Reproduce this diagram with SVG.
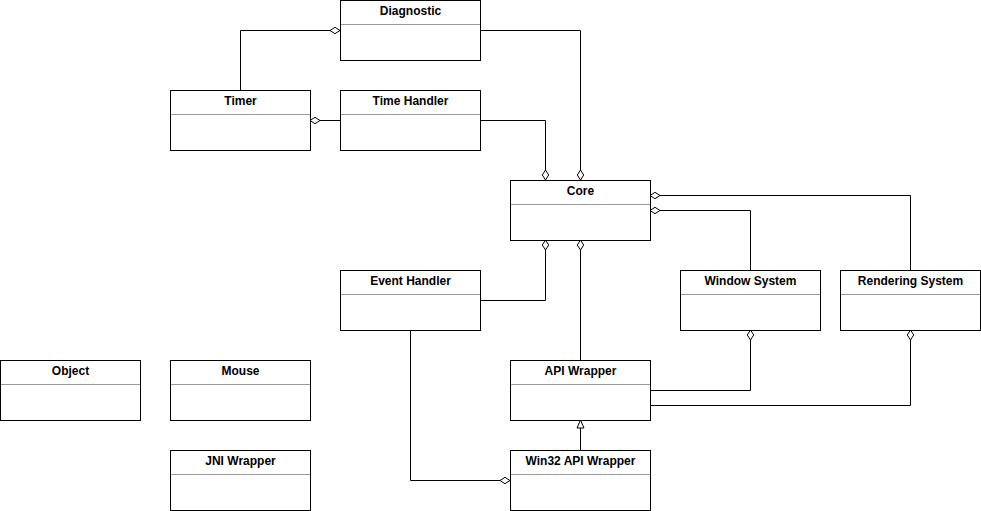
<svg xmlns="http://www.w3.org/2000/svg" width="981" height="511" viewBox="0 0 981 511">
  <style>
    .box { fill: #ffffff; stroke: #000000; stroke-width: 1; }
    .sep { stroke: #999999; stroke-width: 1; }
    .title { font-family: "Liberation Sans", Arial, sans-serif; font-size: 12px; font-weight: bold; fill: #000000; text-anchor: middle; }
    .link { fill: none; stroke: #000000; stroke-width: 1; }
    .agg { marker-end: url(#diamond); }
    .gen { marker-end: url(#triangle); }
  </style>
  <defs>
    <marker id="diamond" markerUnits="userSpaceOnUse" markerWidth="14" markerHeight="10" viewBox="-1 -5 13 10" refX="10" refY="0" orient="auto" overflow="visible">
      <path d="M0,0 L5,-3.2 L10,0 L5,3.2 Z" fill="#ffffff" stroke="#000000" stroke-width="1"/>
    </marker>
    <marker id="triangle" markerUnits="userSpaceOnUse" markerWidth="12" markerHeight="10" viewBox="-1 -5 11 10" refX="8" refY="0" orient="auto" overflow="visible">
      <path d="M0,-3.5 L8,0 L0,3.5 Z" fill="#ffffff" stroke="#000000" stroke-width="1"/>
    </marker>
  </defs>

  <!-- connectors -->
  <g id="connectors">
    <path class="link agg" d="M240.5,90 V30.5 H340"/>
    <path class="link agg" d="M480,30.5 H580.5 V180"/>
    <path class="link agg" d="M340,120.5 H310"/>
    <path class="link agg" d="M480,120.5 H545.5 V180"/>
    <path class="link agg" d="M480,300.5 H545.5 V240"/>
    <path class="link agg" d="M580.5,360 V240"/>
    <path class="link agg" d="M750.5,270 V210.5 H650"/>
    <path class="link agg" d="M910.5,270 V195.5 H650"/>
    <path class="link agg" d="M650,390.5 H750.5 V330"/>
    <path class="link agg" d="M650,405.5 H910.5 V330"/>
    <path class="link gen" d="M580.5,450 V420"/>
    <path class="link agg" d="M410.5,330 V480.5 H510"/>
  </g>

  <!-- classes -->
  <g id="diagnostic">
    <rect class="box" x="340.5" y="0.5" width="140" height="60"/>
    <line class="sep" x1="341" y1="24.5" x2="480" y2="24.5"/>
    <text class="title" x="410.5" y="15">Diagnostic</text>
  </g>
  <g id="timer">
    <rect class="box" x="170.5" y="90.5" width="140" height="60"/>
    <line class="sep" x1="171" y1="114.5" x2="310" y2="114.5"/>
    <text class="title" x="240.5" y="105">Timer</text>
  </g>
  <g id="time-handler">
    <rect class="box" x="340.5" y="90.5" width="140" height="60"/>
    <line class="sep" x1="341" y1="114.5" x2="480" y2="114.5"/>
    <text class="title" x="410.5" y="105">Time Handler</text>
  </g>
  <g id="core">
    <rect class="box" x="510.5" y="180.5" width="140" height="60"/>
    <line class="sep" x1="511" y1="204.5" x2="650" y2="204.5"/>
    <text class="title" x="580.5" y="195">Core</text>
  </g>
  <g id="event-handler">
    <rect class="box" x="340.5" y="270.5" width="140" height="60"/>
    <line class="sep" x1="341" y1="294.5" x2="480" y2="294.5"/>
    <text class="title" x="410.5" y="285">Event Handler</text>
  </g>
  <g id="window-system">
    <rect class="box" x="680.5" y="270.5" width="140" height="60"/>
    <line class="sep" x1="681" y1="294.5" x2="820" y2="294.5"/>
    <text class="title" x="750.5" y="285">Window System</text>
  </g>
  <g id="rendering-system">
    <rect class="box" x="840.5" y="270.5" width="140" height="60"/>
    <line class="sep" x1="841" y1="294.5" x2="980" y2="294.5"/>
    <text class="title" x="910.5" y="285">Rendering System</text>
  </g>
  <g id="object">
    <rect class="box" x="0.5" y="360.5" width="140" height="60"/>
    <line class="sep" x1="1" y1="384.5" x2="140" y2="384.5"/>
    <text class="title" x="70.5" y="375">Object</text>
  </g>
  <g id="mouse">
    <rect class="box" x="170.5" y="360.5" width="140" height="60"/>
    <line class="sep" x1="171" y1="384.5" x2="310" y2="384.5"/>
    <text class="title" x="240.5" y="375">Mouse</text>
  </g>
  <g id="api-wrapper">
    <rect class="box" x="510.5" y="360.5" width="140" height="60"/>
    <line class="sep" x1="511" y1="384.5" x2="650" y2="384.5"/>
    <text class="title" x="580.5" y="375">API Wrapper</text>
  </g>
  <g id="jni-wrapper">
    <rect class="box" x="170.5" y="450.5" width="140" height="60"/>
    <line class="sep" x1="171" y1="474.5" x2="310" y2="474.5"/>
    <text class="title" x="240.5" y="465">JNI Wrapper</text>
  </g>
  <g id="win32-api-wrapper">
    <rect class="box" x="510.5" y="450.5" width="140" height="60"/>
    <line class="sep" x1="511" y1="474.5" x2="650" y2="474.5"/>
    <text class="title" x="580.5" y="465">Win32 API Wrapper</text>
  </g>
</svg>
